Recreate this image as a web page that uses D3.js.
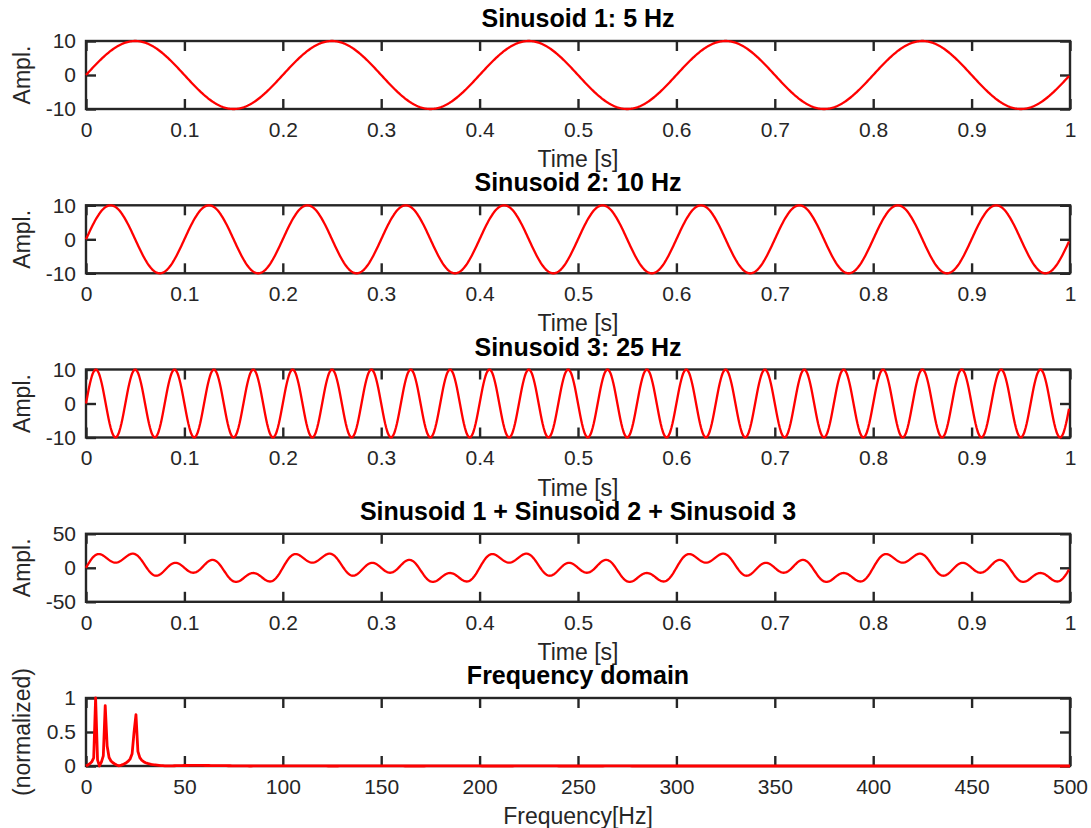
<!DOCTYPE html>
<html>
<head>
<meta charset="utf-8">
<script src="https://cdn.jsdelivr.net/npm/d3@7"></script>
<style>
  html, body { margin: 0; padding: 0; background: #fff; }
  svg { display: block; font-family: "Liberation Sans", Arial, Helvetica, sans-serif; }
</style>
</head>
<body>
<svg id="chart" width="1091" height="828"></svg>
<script>
// ---------------- data ----------------
const sineFreqs = [5, 10, 25];          // Hz
const sineAmps = [10, 10, 10];          // amplitude
const sampleRate = 1000;                // samples per second
const sampleCount = 1000;               // 1 s of signal
const fftSize = 1024;                   // zero-padded FFT length
const panelTitles = ["Sinusoid 1: 5 Hz", "Sinusoid 2: 10 Hz", "Sinusoid 3: 25 Hz",
                     "Sinusoid 1 + Sinusoid 2 + Sinusoid 3", "Frequency domain"];
const timeTicks = [0, 0.1, 0.2, 0.3, 0.4, 0.5, 0.6, 0.7, 0.8, 0.9, 1];
const freqTicks = [0, 50, 100, 150, 200, 250, 300, 350, 400, 450, 500];
const ampTicks = [-10, 0, 10];
const sumTicks = [-50, 0, 50];
const specTicks = [0, 0.5, 1];
const timeLabel = "Time [s]";
const freqLabel = "Frequency[Hz]";
const ampLabel = "Ampl.";
const specLabel = "(normalized)";

// ---------------- signals ----------------
const t = d3.range(sampleCount).map(i => i / sampleRate);
const sines = sineFreqs.map((f, j) => t.map(tt => sineAmps[j] * Math.sin(2 * Math.PI * f * tt)));
const sum = t.map((_, i) => sines.reduce((s, arr) => s + arr[i], 0));

// DFT (zero padded) of the summed signal, one-sided amplitude, normalized
const half = fftSize / 2;
const spec = [];
for (let k = 0; k <= half; k++) {
  let re = 0, im = 0;
  const w = -2 * Math.PI * k / fftSize;
  for (let n = 0; n < sampleCount; n++) {
    re += sum[n] * Math.cos(w * n);
    im += sum[n] * Math.sin(w * n);
  }
  spec.push(2 * Math.hypot(re, im) / sampleCount);
}
const specMax = d3.max(spec);
const freqs = d3.range(half + 1).map(k => sampleRate / 2 * k / half);
const specNorm = spec.map(v => v / specMax);

// ---------------- layout ----------------
const svg = d3.select("#chart");
const left = 86, right = 1070;
const tops = [41, 205.3, 369.5, 533.8, 698];
const ph = 68;
const axisColor = "#262626";
const tickFont = 21, labelFont = 23, titleFont = 25;

const panels = [
  { x: t, y: sines[0], xd: [0, 1], yd: [-10, 10], xt: timeTicks, yt: ampTicks, xl: timeLabel, yl: ampLabel },
  { x: t, y: sines[1], xd: [0, 1], yd: [-10, 10], xt: timeTicks, yt: ampTicks, xl: timeLabel, yl: ampLabel },
  { x: t, y: sines[2], xd: [0, 1], yd: [-10, 10], xt: timeTicks, yt: ampTicks, xl: timeLabel, yl: ampLabel },
  { x: t, y: sum, xd: [0, 1], yd: [-50, 50], xt: timeTicks, yt: sumTicks, xl: timeLabel, yl: ampLabel },
  { x: freqs, y: specNorm, xd: [0, 500], yd: [0, 1], xt: freqTicks, yt: specTicks, xl: freqLabel, yl: specLabel }
];

const fmt = d => String(d);

panels.forEach((p, i) => {
  const top = tops[i], bottom = top + ph;
  const xs = d3.scaleLinear().domain(p.xd).range([left, right]);
  const ys = d3.scaleLinear().domain(p.yd).range([bottom, top]);
  const g = svg.append("g");

  const styleAxis = sel => {
    sel.select(".domain").remove();
    sel.selectAll(".tick line").attr("stroke", axisColor).attr("stroke-width", 2.4);
    sel.selectAll(".tick text").attr("fill", axisColor).style("font-size", tickFont + "px");
  };

  g.append("g").attr("transform", `translate(0,${bottom})`)
    .call(d3.axisBottom(xs).tickValues(p.xt).tickFormat(fmt).tickSize(-10).tickPadding(13))
    .call(styleAxis);
  g.append("g").attr("transform", `translate(0,${top})`)
    .call(d3.axisTop(xs).tickValues(p.xt).tickFormat("").tickSize(-10))
    .call(styleAxis);
  g.append("g").attr("transform", `translate(${left},0)`)
    .call(d3.axisLeft(ys).tickValues(p.yt).tickFormat(fmt).tickSize(-10).tickPadding(10))
    .call(styleAxis);
  g.append("g").attr("transform", `translate(${right},0)`)
    .call(d3.axisRight(ys).tickValues(p.yt).tickFormat("").tickSize(-10))
    .call(styleAxis);

  g.append("rect")
    .attr("x", left).attr("y", top).attr("width", right - left).attr("height", ph)
    .attr("fill", "none").attr("stroke", axisColor).attr("stroke-width", 2.4);

  const line = d3.line().x((d, j) => xs(p.x[j])).y(d => ys(d));
  g.append("path").datum(p.y)
    .attr("d", line)
    .attr("fill", "none").attr("stroke", "#ff0000")
    .attr("stroke-width", i === 4 ? 2.8 : 2.3)
    .attr("stroke-linejoin", "round");

  g.append("text")
    .attr("x", (left + right) / 2).attr("y", top - 14)
    .attr("text-anchor", "middle").attr("fill", "#000")
    .style("font-size", titleFont + "px").style("font-weight", "bold")
    .text(panelTitles[i]);

  g.append("text")
    .attr("x", (left + right) / 2).attr("y", bottom + 58)
    .attr("text-anchor", "middle").attr("fill", axisColor)
    .style("font-size", labelFont + "px")
    .text(p.xl);

  g.append("text")
    .attr("transform", `translate(29.5,${(top + bottom) / 2}) rotate(-90)`)
    .attr("text-anchor", "middle").attr("fill", axisColor)
    .style("font-size", labelFont + "px")
    .text(p.yl);
});
</script>
</body>
</html>
